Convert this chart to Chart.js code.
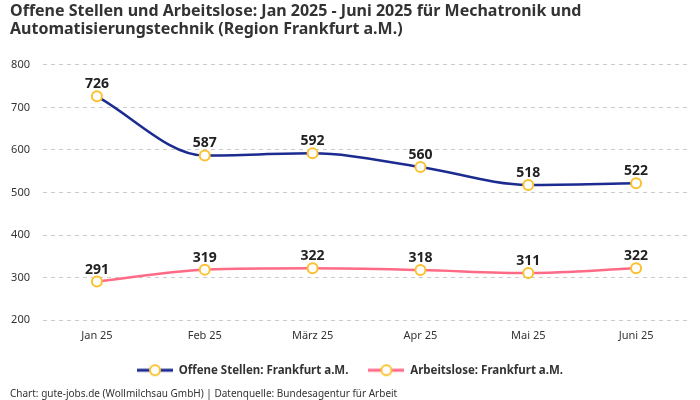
<!DOCTYPE html>
<html>
<head>
<meta charset="utf-8">
<script src="https://cdn.jsdelivr.net/npm/chart.js@4/dist/chart.umd.min.js"></script>
<style>
  html, body { margin: 0; padding: 0; background: #fff; }
  #wrap { width: 700px; height: 400px; }
</style>
</head>
<body>
<div id="wrap"><canvas id="chart"></canvas></div>
<script>
// --- DATEN ---
const monate = ['Jan 25', 'Feb 25', 'März 25', 'Apr 25', 'Mai 25', 'Juni 25'];
const offeneStellen = [726, 587, 592, 560, 518, 522];
const arbeitslose = [291, 319, 322, 318, 311, 322];

const BLAU = '#1c2b8f';
const ROSA = '#ff6b86';
const GELB = '#fbc12e';
const FONT = '"Noto Sans", sans-serif';

// Legendensymbol: Linie mit Kreis in der Mitte
function legendSymbol(color) {
  const c = document.createElement('canvas');
  c.width = 36; c.height = 14;
  const g = c.getContext('2d');
  g.strokeStyle = color; g.lineWidth = 3;
  g.beginPath(); g.moveTo(0, 7); g.lineTo(36, 7); g.stroke();
  g.fillStyle = '#fff'; g.strokeStyle = GELB; g.lineWidth = 2;
  g.beginPath(); g.arc(18, 7, 5, 0, Math.PI * 2); g.fill(); g.stroke();
  return c;
}

// Werte über den Punkten
const wertLabels = {
  id: 'wertLabels',
  afterDatasetsDraw(chart) {
    const ctx = chart.ctx;
    ctx.save();
    ctx.font = 'bold 14px ' + FONT;
    ctx.fillStyle = '#222';
    ctx.textAlign = 'center';
    ctx.textBaseline = 'bottom';
    chart.data.datasets.forEach((ds, i) => {
      chart.getDatasetMeta(i).data.forEach((pt, j) => {
        ctx.fillText(ds.data[j], pt.x, pt.y - 5);
      });
    });
    ctx.restore();
  }
};

new Chart(document.getElementById('chart'), {
  type: 'line',
  data: {
    labels: monate,
    datasets: [
      {
        label: 'Offene Stellen: Frankfurt a.M.',
        data: offeneStellen,
        borderColor: BLAU,
        borderWidth: 2.5,
        cubicInterpolationMode: 'monotone',
        pointRadius: 5,
        pointBorderWidth: 2,
        pointBackgroundColor: '#fff',
        pointBorderColor: GELB,
      },
      {
        label: 'Arbeitslose: Frankfurt a.M.',
        data: arbeitslose,
        borderColor: ROSA,
        borderWidth: 2.5,
        cubicInterpolationMode: 'monotone',
        pointRadius: 5,
        pointBorderWidth: 2,
        pointBackgroundColor: '#fff',
        pointBorderColor: GELB,
      },
    ],
  },
  options: {
    responsive: true,
    maintainAspectRatio: false,
    animation: false,
    layout: { padding: { left: 10, right: 10, top: 2, bottom: 0 } },
    scales: {
      x: {
        offset: true,
        grid: { display: false, drawTicks: false },
        border: { display: false },
        ticks: { color: '#333', font: { family: FONT, size: 11 }, padding: 9 },
        afterFit(scale) { scale.height -= 7; },
      },
      y: {
        min: 200,
        max: 800,
        grid: { color: '#cccccc', drawTicks: false },
        border: { display: false, dash: [4, 4] },
        ticks: { stepSize: 100, color: '#333', font: { family: FONT, size: 11 }, padding: 13 },
        afterFit(scale) { scale.width = 33; },
      },
    },
    plugins: {
      title: {
        display: true,
        align: 'start',
        text: [
          'Offene Stellen und Arbeitslose: Jan 2025 - Juni 2025 für Mechatronik und',
          'Automatisierungstechnik (Region Frankfurt a.M.)',
        ],
        color: '#333',
        font: { family: FONT, size: 16, weight: 'bold', lineHeight: 1.15 },
        padding: { top: 0, bottom: 26 },
      },
      subtitle: {
        display: true,
        position: 'bottom',
        align: 'start',
        text: 'Chart: gute-jobs.de (Wollmilchsau GmbH) | Datenquelle: Bundesagentur für Arbeit',
        color: '#333',
        font: { family: FONT, size: 10 },
        padding: { top: 2, bottom: 0 },
      },
      legend: {
        position: 'bottom',
        labels: {
          usePointStyle: true,
          pointStyleWidth: 36,
          color: '#333',
          font: { family: FONT, size: 11.5, weight: 'bold' },
          padding: 20,
          generateLabels(chart) {
            return chart.data.datasets.map((ds, i) => ({
              text: ds.label,
              pointStyle: legendSymbol(ds.borderColor),
              fillStyle: ds.borderColor,
              strokeStyle: ds.borderColor,
              lineWidth: 0,
              fontColor: '#333',
              datasetIndex: i,
            }));
          },
        },
      },
      tooltip: { enabled: false },
    },
  },
  plugins: [wertLabels],
});
</script>
</body>
</html>
